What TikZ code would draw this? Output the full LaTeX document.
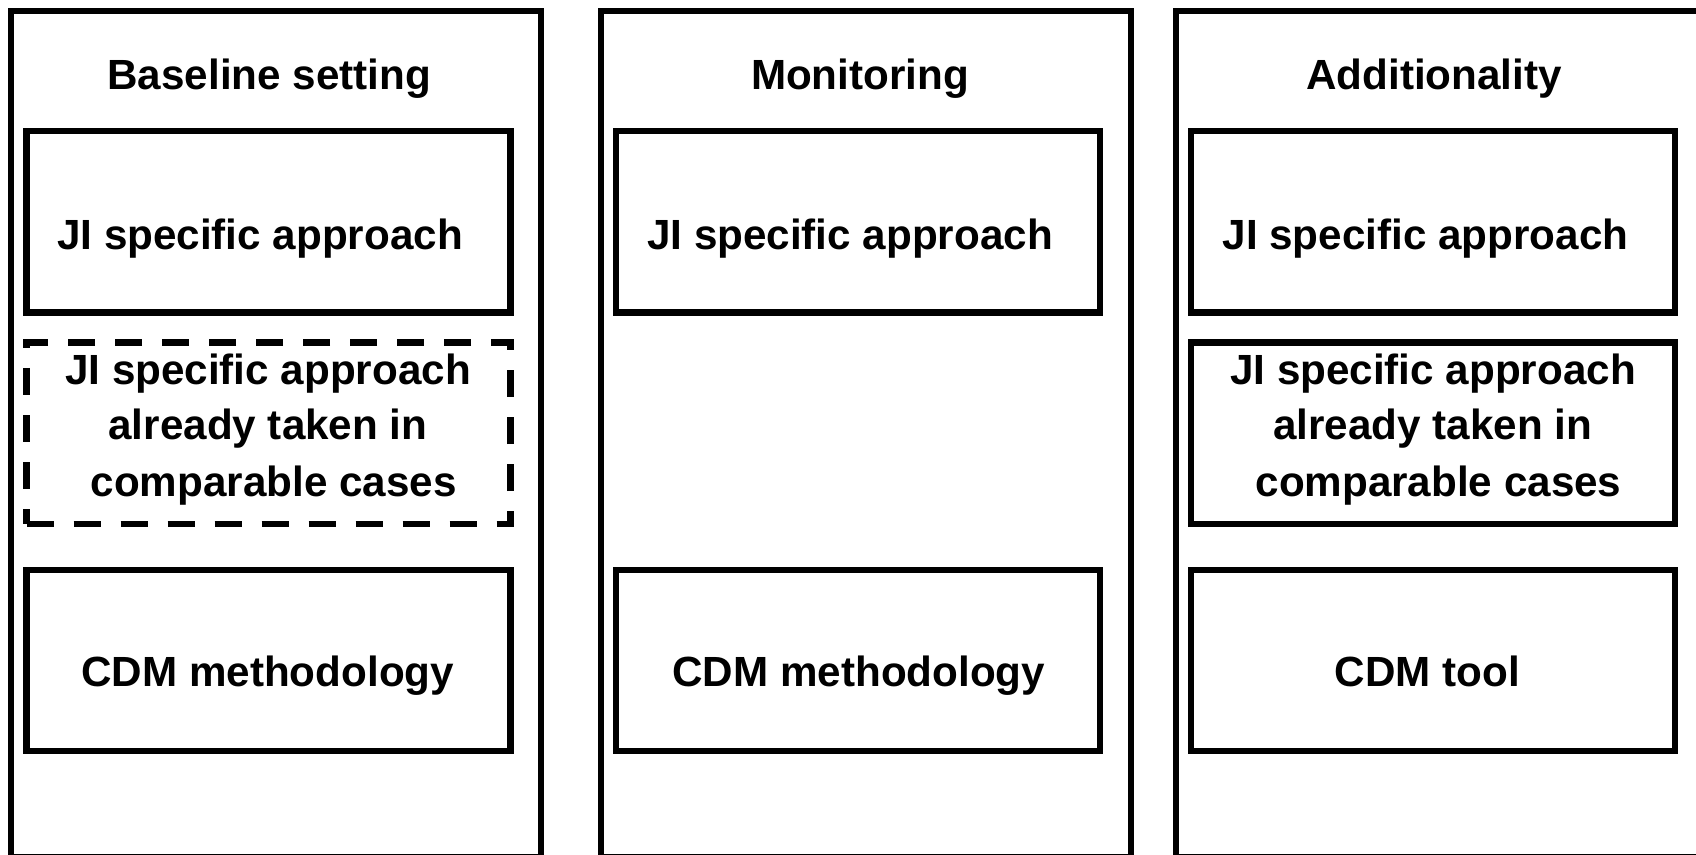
\documentclass[tikz,border=0pt]{standalone}
\usepackage{fontspec}
\setmainfont{Liberation Sans}
\begin{document}
\begin{tikzpicture}[x=0.5pt,y=-0.5pt,
  panel/.style={draw, line width=3.2pt, rectangle, inner sep=0pt, minimum width=265pt, minimum height=423pt},
  box/.style={draw, line width=3.2pt, rectangle, inner sep=0pt, minimum width=242pt, minimum height=90.75pt},
  dbox/.style={box, dash pattern=on 13.5pt off 10pt},
  lbl/.style={anchor=base, inner sep=0pt, font=\bfseries\fontsize{21.1pt}{28pt}\selectfont}]
\useasboundingbox (0,0) rectangle (1696,855);
\clip (0,0) rectangle (1696,855);
% panels
\node[panel] (p1) at (276,434) {};
\node[panel] (p2) at (866,434) {};
\node[panel] (p3) at (1441,434) {};
% titles
\node[lbl] (t1) at (269.3,89.3) {Baseline setting};
\node[lbl] (t2) at (860,89.3) {Monitoring};
\node[lbl] (t3) at (1434,89.3) {Additionality};
% panel 1
\node[box] (a1) at (268.5,221.75) {};
\node[dbox] (a2) at (268.5,433.25) {};
\node[box, minimum height=90.5pt] (a3) at (268.5,660.5) {};
\node[lbl] (a1t) at (260,250) {JI specific approach};
\node[lbl] (a2t1) at (268,385) {JI specific approach};
\node[lbl] (a2t2) at (268,439.5) {already taken in};
\node[lbl] (a2t3) at (273.6,496) {comparable cases};
\node[lbl] (a3t) at (267.7,686.7) {CDM methodology};
% panel 2
\node[box] (b1) at (858.25,221.75) {};
\node[box, minimum height=90.5pt] (b3) at (858.25,660.5) {};
\node[lbl] (b1t) at (850,250) {JI specific approach};
\node[lbl] (b3t) at (858.8,686.7) {CDM methodology};
% panel 3
\node[box] (c1) at (1433,221.75) {};
\node[box] (c2) at (1433,433.25) {};
\node[box, minimum height=90.5pt] (c3) at (1433,660.5) {};
\node[lbl] (c1t) at (1425.5,250) {JI specific approach};
\node[lbl] (c2t1) at (1433,385) {JI specific approach};
\node[lbl] (c2t2) at (1432.6,439.5) {already taken in};
\node[lbl] (c2t3) at (1438.5,496) {comparable cases};
\node[lbl] (c3t) at (1427.2,686.7) {CDM tool};
\end{tikzpicture}
\end{document}
